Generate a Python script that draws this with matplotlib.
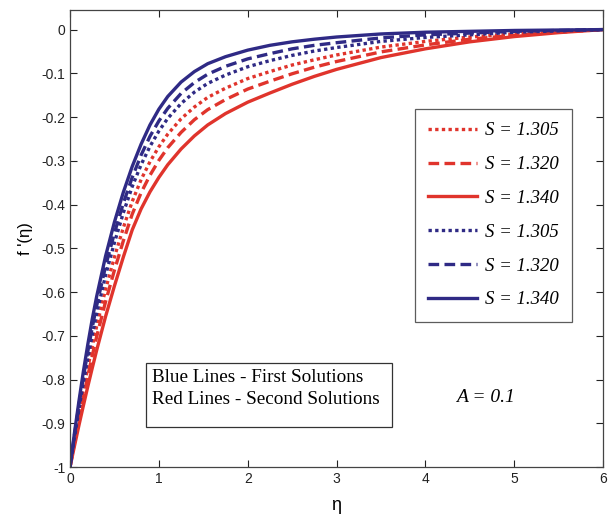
import matplotlib
matplotlib.use('Agg')
import matplotlib.pyplot as plt
from matplotlib.patches import Rectangle

# similarity variable
eta = [0, 0.05, 0.1, 0.15, 0.2, 0.25, 0.3, 0.4, 0.5, 0.6, 0.7, 0.8, 0.9, 1.0, 1.1,
       1.25, 1.4, 1.55, 1.75, 2.0, 2.25, 2.5, 2.75, 3.0, 3.5, 4.0, 4.5, 5.0, 5.5, 6.0]

# first solutions (blue)
blue_1305 = [-1, -0.932, -0.868, -0.807, -0.751, -0.698, -0.649, -0.562, -0.487, -0.419,
             -0.359, -0.309, -0.267, -0.232, -0.203, -0.169, -0.143, -0.123, -0.104, -0.085,
             -0.071, -0.059, -0.049, -0.041, -0.027, -0.018, -0.012, -0.006, -0.003, 0]
blue_1320 = [-1, -0.927, -0.859, -0.795, -0.736, -0.681, -0.631, -0.541, -0.465, -0.397,
             -0.338, -0.287, -0.244, -0.209, -0.180, -0.146, -0.121, -0.102, -0.084, -0.067,
             -0.055, -0.044, -0.036, -0.030, -0.019, -0.012, -0.008, -0.004, -0.002, 0]
blue_1340 = [-1, -0.922, -0.850, -0.782, -0.720, -0.662, -0.610, -0.518, -0.440, -0.372,
             -0.313, -0.262, -0.218, -0.182, -0.153, -0.120, -0.096, -0.078, -0.062, -0.047,
             -0.036, -0.028, -0.022, -0.017, -0.010, -0.006, -0.004, -0.002, -0.001, 0]

# second solutions (red)
red_1305 = [-1, -0.939, -0.880, -0.825, -0.773, -0.724, -0.678, -0.594, -0.520, -0.453,
            -0.393, -0.343, -0.302, -0.268, -0.239, -0.204, -0.177, -0.155, -0.134, -0.112,
            -0.096, -0.081, -0.069, -0.058, -0.040, -0.027, -0.017, -0.010, -0.004, 0]
red_1320 = [-1, -0.945, -0.891, -0.841, -0.792, -0.746, -0.702, -0.622, -0.550, -0.483,
            -0.422, -0.373, -0.333, -0.299, -0.270, -0.235, -0.206, -0.183, -0.160, -0.136,
            -0.118, -0.101, -0.086, -0.073, -0.051, -0.035, -0.022, -0.013, -0.006, 0]
red_1340 = [-1, -0.952, -0.905, -0.860, -0.816, -0.774, -0.733, -0.656, -0.586, -0.520,
            -0.458, -0.410, -0.371, -0.338, -0.309, -0.273, -0.243, -0.218, -0.192, -0.166,
            -0.145, -0.125, -0.107, -0.091, -0.064, -0.044, -0.028, -0.016, -0.007, 0]

s_labels = ['S = 1.305', 'S = 1.320', 'S = 1.340']
xticks = [0, 1, 2, 3, 4, 5, 6]
yticks = [0, -0.1, -0.2, -0.3, -0.4, -0.5, -0.6, -0.7, -0.8, -0.9, -1]
ytick_labels = ['0', '-0.1', '-0.2', '-0.3', '-0.4', '-0.5', '-0.6', '-0.7', '-0.8', '-0.9', '-1']

red = '#e0342c'
blue = '#2f2a85'
styles = [(0, (1, 1)), (0, (3.2, 1.6)), '-']

fig = plt.figure(figsize=(6.11, 5.21), dpi=100)
ax = fig.add_axes([0.1146, 0.1036, 0.8724, 0.8774])

lines = []
for ys, st, lab in zip([red_1305, red_1320, red_1340], styles, s_labels):
    l, = ax.plot(eta, ys, color=red, linestyle=st, linewidth=2.4, label=lab)
    lines.append(l)
for ys, st, lab in zip([blue_1305, blue_1320, blue_1340], styles, s_labels):
    l, = ax.plot(eta, ys, color=blue, linestyle=st, linewidth=2.4, label=lab)
    lines.append(l)

ax.set_xlim(0, 6)
ax.set_ylim(-1, 0.045)
ax.set_xticks(xticks)
ax.set_yticks(yticks)
ax.set_yticklabels(ytick_labels)
ax.tick_params(direction='in', length=5, top=True, right=True, labelsize=10,
               colors='#222222', width=0.8)
for lbl in ax.get_xticklabels() + ax.get_yticklabels():
    lbl.set_family('Liberation Sans')
for sp in ax.spines.values():
    sp.set_color('#444444')
    sp.set_linewidth(0.9)

ax.set_xlabel('η', fontsize=13, family='Liberation Sans', labelpad=8)
ax.set_ylabel("f '(η)", fontsize=12, family='Liberation Sans', labelpad=6)

leg = ax.legend(handles=lines, loc='upper left', bbox_to_anchor=(0.647, 0.783),
                borderaxespad=0,
                prop={'family': 'Liberation Serif', 'style': 'italic', 'size': 13.5},
                handlelength=2.6, handletextpad=0.45, labelspacing=0.89,
                borderpad=0.7, fancybox=False, frameon=True)
leg.get_frame().set_edgecolor('#333333')
leg.get_frame().set_linewidth(0.9)

# note box
ax.add_patch(Rectangle((0.143, 0.0875), 0.461, 0.14, transform=ax.transAxes,
                       facecolor='white', edgecolor='#333333', linewidth=0.9))
ax.text(0.154, 0.195, 'Blue Lines - First Solutions', transform=ax.transAxes,
        fontsize=13.8, family='Liberation Serif', va='center', ha='left')
ax.text(0.154, 0.147, 'Red Lines - Second Solutions', transform=ax.transAxes,
        fontsize=13.8, family='Liberation Serif', va='center', ha='left')
ax.text(0.779, 0.153, 'A = 0.1', transform=ax.transAxes, fontsize=14,
        family='Liberation Serif', style='italic', va='center', ha='center')

fig.savefig('out.png', dpi=100)
